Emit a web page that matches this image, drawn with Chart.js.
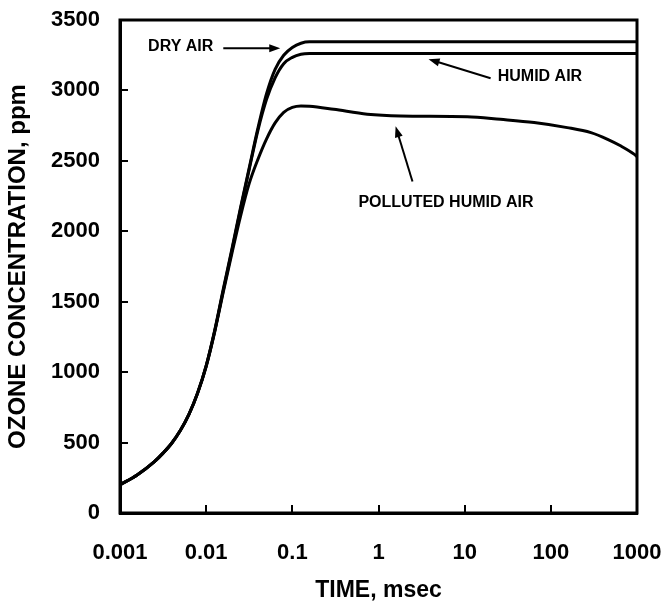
<!DOCTYPE html>
<html>
<head>
<meta charset="utf-8">
<script src="https://cdn.jsdelivr.net/npm/chart.js@4/dist/chart.umd.min.js"></script>
<style>
  html, body { margin: 0; padding: 0; background: #fff; }
  #wrap { width: 665px; height: 608px; }
</style>
</head>
<body>
<div id="wrap"><canvas id="ozoneChart" width="665" height="608"></canvas></div>
<script>
// ============================================
// DATA (time in msec, ozone in ppm)
// ============================================
const xTicks = [0.001, 0.01, 0.1, 1, 10, 100, 1000];
const xTickLabels = ['0.001', '0.01', '0.1', '1', '10', '100', '1000'];
const yTicks = [0, 500, 1000, 1500, 2000, 2500, 3000, 3500];

const riseTime = [0.001, 0.00158, 0.00251, 0.00316, 0.00398, 0.00501, 0.00631, 0.00794, 0.01, 0.0126, 0.0158, 0.02, 0.0251, 0.0316, 0.0398, 0.0501, 0.0631, 0.0794, 0.1, 0.126, 0.158, 1000];

const dryTime = riseTime;
const dryAir  = [200, 270, 365, 425, 495, 585, 700, 850, 1045, 1300, 1590, 1880, 2170, 2450, 2730, 2975, 3150, 3250, 3305, 3335, 3345, 3345];

const humidTime = riseTime;
const humidAir  = [200, 270, 365, 425, 495, 585, 700, 850, 1045, 1295, 1580, 1870, 2160, 2440, 2715, 2935, 3090, 3190, 3235, 3257, 3262, 3262];

const pollutedTime = [0.001, 0.00158, 0.00251, 0.00316, 0.00398, 0.00501, 0.00631, 0.00794, 0.01, 0.0126, 0.0158, 0.02, 0.0251, 0.0316, 0.0398, 0.0501, 0.0631, 0.0794, 0.1, 0.126, 0.158, 0.302, 0.74, 1.8, 10.7, 26, 64, 155, 292, 456, 652, 933, 1000];
const pollutedAir  = [200, 270, 365, 425, 495, 585, 700, 850, 1040, 1290, 1570, 1850, 2110, 2340, 2510, 2655, 2770, 2845, 2880, 2890, 2888, 2866, 2831, 2819, 2814, 2795, 2772, 2736, 2700, 2653, 2605, 2546, 2530];

// annotation labels + arrows, anchored in data units
const notes = [
    { text: 'DRY AIR', at: [0.00212, 3314], from: [0.0158, 3300], to: [0.0724, 3300] },
    { text: 'HUMID AIR', at: [24.2, 3101], from: [20, 3087], to: [3.81, 3222] },
    { text: 'POLLUTED HUMID AIR', at: [0.585, 2205], from: [2.48, 2354], to: [1.58, 2745] }
];

const toPoints = (xs, ys) => xs.map((x, i) => ({ x: x, y: ys[i] }));

// ============================================
// PLUGINS
// ============================================
const frameAndNotes = {
    id: 'frameAndNotes',
    afterDraw(chart) {
        const { ctx, chartArea, scales } = chart;
        ctx.save();
        // plot frame
        ctx.strokeStyle = '#000';
        ctx.lineWidth = 3;
        ctx.strokeRect(chartArea.left, chartArea.top, chartArea.right - chartArea.left, chartArea.bottom - chartArea.top);

        ctx.font = 'bold 16px "Liberation Sans", Arial, sans-serif';
        ctx.fillStyle = '#000';
        ctx.textAlign = 'left';
        ctx.textBaseline = 'middle';
        notes.forEach(n => {
            const tx = scales.x.getPixelForValue(n.at[0]);
            const ty = scales.y.getPixelForValue(n.at[1]);
            ctx.fillText(n.text, tx, ty);

            const x1 = scales.x.getPixelForValue(n.from[0]);
            const y1 = scales.y.getPixelForValue(n.from[1]);
            const x2 = scales.x.getPixelForValue(n.to[0]);
            const y2 = scales.y.getPixelForValue(n.to[1]);
            const ang = Math.atan2(y2 - y1, x2 - x1);
            const head = 11;
            ctx.lineWidth = 2;
            ctx.beginPath();
            ctx.moveTo(x1, y1);
            ctx.lineTo(x2 - Math.cos(ang) * head * 0.8, y2 - Math.sin(ang) * head * 0.8);
            ctx.stroke();
            ctx.beginPath();
            ctx.moveTo(x2, y2);
            ctx.lineTo(x2 - head * Math.cos(ang) + 4 * Math.sin(ang), y2 - head * Math.sin(ang) - 4 * Math.cos(ang));
            ctx.lineTo(x2 - head * Math.cos(ang) - 4 * Math.sin(ang), y2 - head * Math.sin(ang) + 4 * Math.cos(ang));
            ctx.closePath();
            ctx.fill();
        });
        ctx.restore();
    }
};

// ============================================
// CHART
// ============================================
const lineStyle = {
    borderColor: '#000',
    borderWidth: 3,
    pointRadius: 0,
    fill: false,
    cubicInterpolationMode: 'monotone'
};

const tickFont = { family: '"Liberation Sans", Arial, sans-serif', size: 22, weight: 'bold' };
const xTitleFont = { family: '"Liberation Sans", Arial, sans-serif', size: 23, weight: 'bold' };
const yTitleFont = { family: '"Liberation Sans", Arial, sans-serif', size: 24, weight: 'bold' };

new Chart(document.getElementById('ozoneChart').getContext('2d'), {
    type: 'line',
    data: {
        datasets: [
            Object.assign({ label: 'Dry air', data: toPoints(dryTime, dryAir) }, lineStyle),
            Object.assign({ label: 'Humid air', data: toPoints(humidTime, humidAir) }, lineStyle),
            Object.assign({ label: 'Polluted humid air', data: toPoints(pollutedTime, pollutedAir) }, lineStyle)
        ]
    },
    options: {
        responsive: false,
        animation: false,
        layout: { padding: { top: 20, right: 28, left: 0, bottom: 0 } },
        plugins: {
            legend: { display: false },
            tooltip: { enabled: false }
        },
        scales: {
            x: {
                type: 'logarithmic',
                min: 0.001,
                max: 1000,
                afterBuildTicks: s => { s.ticks = xTicks.map(v => ({ value: v })); },
                afterFit: s => { s.height = 95; s.paddingLeft = 0; s.paddingRight = 0; },
                ticks: {
                    color: '#000',
                    font: tickFont,
                    padding: 35,
                    maxRotation: 0,
                    autoSkip: false,
                    callback: (v, i) => xTickLabels[i]
                },
                grid: { drawOnChartArea: false, color: '#000', lineWidth: 2, tickLength: -8 },
                border: { color: '#000', width: 3 },
                title: { display: true, text: 'TIME, msec', color: '#000', font: xTitleFont, padding: { top: 0, bottom: 4 } }
            },
            y: {
                type: 'linear',
                min: 0,
                max: 3500,
                afterBuildTicks: s => { s.ticks = yTicks.map(v => ({ value: v })); },
                afterFit: s => { s.width = 120; s.paddingTop = 0; s.paddingBottom = 0; },
                ticks: {
                    color: '#000',
                    font: tickFont,
                    padding: 28,
                    callback: v => String(v)
                },
                grid: { drawOnChartArea: false, color: '#000', lineWidth: 2, tickLength: -8 },
                border: { color: '#000', width: 3 },
                title: { display: true, text: 'OZONE CONCENTRATION, ppm', color: '#000', font: yTitleFont, padding: { top: 4, bottom: 0 } }
            }
        }
    },
    plugins: [frameAndNotes]
});
</script>
</body>
</html>
